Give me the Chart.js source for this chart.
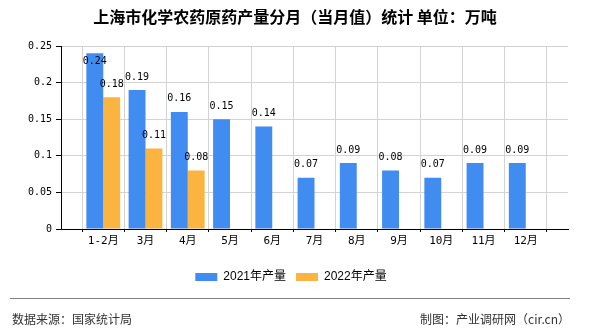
<!DOCTYPE html>
<html>
<head>
<meta charset="utf-8">
<script src="https://cdn.jsdelivr.net/npm/chart.js@4/dist/chart.umd.min.js"></script>
<style>
  html, body { margin: 0; padding: 0; background: #fff; }
  #wrap { width: 590px; height: 330px; }
</style>
</head>
<body>
<div id="wrap"><canvas id="myChart" width="590" height="330"></canvas></div>
<script>
// data
const months = ['1-2月', '3月', '4月', '5月', '6月', '7月', '8月', '9月', '10月', '11月', '12月'];
const output2021 = [0.24, 0.19, 0.16, 0.15, 0.14, 0.07, 0.09, 0.08, 0.07, 0.09, 0.09];
const output2022 = [0.18, 0.11, 0.08];
const yMax = 0.25;
const yStep = 0.05;

const titleText = '上海市化学农药原药产量分月（当月值）统计 单位：万吨';
const sourceText = '数据来源：国家统计局';
const makerText = '制图：产业调研网（cir.cn）';

// the axis has an empty slot at each end, labels sit on the grid lines
const labels = [''].concat(months, ['']);
function pad(arr) {
    let out = [null];
    for (let i = 0; i < months.length; i++) out.push(i < arr.length ? arr[i] : null);
    out.push(null);
    return out;
}

const monoFont = '"DejaVu Sans Mono", "Noto Sans CJK SC", monospace';

const valueLabels = {
    id: 'valueLabels',
    afterDatasetsDraw(chart) {
        const ctx = chart.ctx;
        const area = chart.chartArea;
        ctx.save();
        ctx.font = '10px ' + monoFont;
        ctx.fillStyle = '#000';
        ctx.textAlign = 'center';
        ctx.textBaseline = 'middle';
        chart.data.datasets.forEach((ds, i) => {
            const meta = chart.getDatasetMeta(i);
            meta.data.forEach((bar, j) => {
                const v = ds.data[j];
                if (v === null || v === undefined) return;
                let y = bar.y - 13;
                if (y - 6 < area.top) y = bar.y + 8;
                ctx.fillText(v.toFixed(2), bar.x, y);
            });
        });
        ctx.restore();
    }
};

const decor = {
    id: 'decor',
    beforeDraw(chart) {
        const ctx = chart.ctx;
        ctx.save();
        ctx.fillStyle = '#fff';
        ctx.fillRect(0, 0, chart.width, chart.height);
        ctx.restore();
    },
    afterLayout(chart) {
        // legend in the picture sits a little right of the canvas middle
        if (chart.legend) {
            chart.legend.left += 7;
            chart.legend.right += 7;
        }
    },
    afterDraw(chart) {
        const ctx = chart.ctx;
        ctx.save();
        ctx.fillStyle = '#000';
        ctx.textAlign = 'center';
        ctx.textBaseline = 'middle';
        ctx.font = 'bold 16px "Noto Sans CJK SC"';
        ctx.fillText(titleText, 295, 17);

        ctx.strokeStyle = '#808080';
        ctx.lineWidth = 1;
        ctx.beginPath();
        ctx.moveTo(10, 298.5);
        ctx.lineTo(570, 298.5);
        ctx.stroke();

        ctx.fillStyle = '#333';
        ctx.font = '12px "Noto Sans CJK SC"';
        ctx.textAlign = 'left';
        ctx.fillText(sourceText, 12, 319);
        ctx.textAlign = 'right';
        ctx.fillText(makerText, 570, 319);
        ctx.restore();
    }
};

const ctx = document.getElementById('myChart').getContext('2d');

let graphData = {
    type: 'bar',
    data: {
        labels: labels,
        datasets: [
            {
                label: '2021年产量',
                data: pad(output2021),
                backgroundColor: '#418CF0',
                borderWidth: 0,
                barPercentage: 1,
                categoryPercentage: 0.8
            },
            {
                label: '2022年产量',
                data: pad(output2022),
                backgroundColor: '#FCB441',
                borderWidth: 0,
                barPercentage: 1,
                categoryPercentage: 0.8
            }
        ]
    },
    options: {
        responsive: false,
        animation: false,
        layout: {
            padding: { top: 46, right: 22, bottom: 37, left: 0 }
        },
        scales: {
            x: {
                offset: false,
                grid: { color: '#D3D3D3', tickColor: '#000', tickLength: 3 },
                border: { color: '#000', width: 1 },
                ticks: {
                    autoSkip: false,
                    maxRotation: 0,
                    padding: 3,
                    color: '#000',
                    font: { family: monoFont, size: 11 }
                },
                afterFit(scale) { scale.height = 32; }
            },
            y: {
                min: 0,
                max: yMax,
                grid: { color: '#D3D3D3', tickColor: '#000', tickLength: 5 },
                border: { color: '#000', width: 1 },
                ticks: {
                    stepSize: yStep,
                    padding: 4,
                    color: '#000',
                    font: { family: monoFont, size: 10 },
                    callback: (v) => String(+v.toFixed(2))
                },
                afterFit(scale) { scale.width = 61; }
            }
        },
        plugins: {
            title: { display: false },
            tooltip: { enabled: false },
            legend: {
                position: 'bottom',
                labels: {
                    boxWidth: 22,
                    boxHeight: 8,
                    padding: 10,
                    color: '#000',
                    font: { family: 'Arial, "Liberation Sans", "Noto Sans CJK SC"', size: 12 }
                }
            }
        }
    },
    plugins: [valueLabels, decor]
};

const myChart = new Chart(ctx, graphData);
</script>
</body>
</html>
